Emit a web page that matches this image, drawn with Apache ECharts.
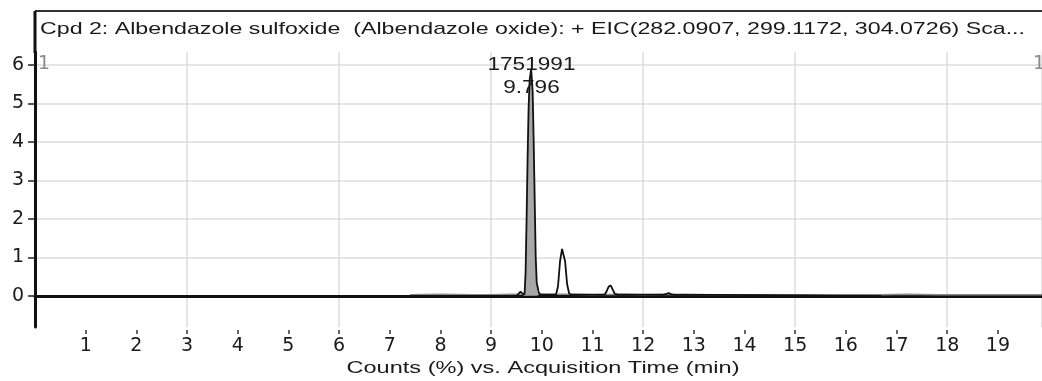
<!DOCTYPE html>
<html>
<head>
<meta charset="utf-8">
<script src="https://cdn.jsdelivr.net/npm/echarts@6/dist/echarts.min.js"></script>
<style>
html,body{margin:0;padding:0;background:#fff;}
#chart{width:1042px;height:381px;}
</style>
</head>
<body>
<div id="chart"></div>
<script>
// ---- data ----
const titleText = 'Cpd 2: Albendazole sulfoxide  (Albendazole oxide): + EIC(282.0907, 299.1172, 304.0726) Sca...';
const xAxisTitle = 'Counts (%) vs. Acquisition Time (min)';
const xTickValues = [1,2,3,4,5,6,7,8,9,10,11,12,13,14,15,16,17,18,19];
const yTickValues = [0,1,2,3,4,5,6];

// black EIC trace (time in min, counts in %)
const signalTime = [0, 9.50, 9.54, 9.58, 9.62, 9.66, 9.68, 9.70, 9.72, 9.74, 9.76, 9.79, 9.82, 9.84, 9.86, 9.88, 9.90, 9.94, 9.98,
  10.28, 10.32, 10.36, 10.40, 10.43, 10.46, 10.50, 10.54, 10.58,
  11.24, 11.28, 11.32, 11.36, 11.40, 11.44, 11.50,
  12.40, 12.46, 12.50, 12.56, 12.62, 16.7];
const signalCounts = [0, 0, 0.05, 0.11, 0.06, 0.04, 0.6, 2.0, 3.6, 4.9, 5.6, 5.9, 5.3, 4.0, 2.5, 1.0, 0.35, 0.08, 0.03,
  0.03, 0.25, 0.9, 1.22, 1.25, 0.9, 0.3, 0.06, 0.03,
  0.03, 0.12, 0.24, 0.27, 0.16, 0.05, 0.03,
  0.03, 0.05, 0.07, 0.04, 0.03, 0];

// grey raw trace slightly above the baseline
const traceTime = [7.40, 8.00, 8.60, 9.00, 9.40, 10.60, 11.00, 11.60, 12.00, 12.80, 13.40, 14.00, 14.60, 15.20, 15.80, 16.40, 16.70, 17.20, 17.80, 18.40, 19.00, 19.87];
const traceCounts = [0.03, 0.04, 0.03, 0.03, 0.04, 0.04, 0.03, 0.04, 0.03, 0.04, 0.03, 0.03, 0.03, 0.03, 0.02, 0.03, 0.03, 0.04, 0.03, 0.03, 0.03, 0.03];

// integrated peak
const peakStart = 9.64, peakEnd = 9.92;
const peakApexTime = 9.796, peakApexCounts = 5.9, peakArea = '1751991';
const cursorLabel = '1';

// ---- chart ----
const signal = signalTime.map((t, i) => [t, signalCounts[i]]);
const trace = traceTime.map((t, i) => [t, traceCounts[i]]);
const fill = signal.filter(p => p[0] >= peakStart && p[0] <= peakEnd);
fill.unshift([peakStart, 0]); fill.push([peakEnd, 0]);

const X0 = 35, XR = 1042, YT = 52, YB = 327, FRAME_TOP = 11;
const FONT = '"Liberation Sans", Arial, sans-serif';
const TICKFONT = '"DejaVu Sans", sans-serif';

function measure(text, size) {
  const c = document.createElement('canvas').getContext('2d');
  c.font = size + 'px ' + FONT;
  return c.measureText(text).width;
}
const titleSize = 17, nameSize = 17, peakSize = 18;
const titleScale = 985 / measure(titleText, titleSize);
const nameScale = 393 / measure(xAxisTitle, nameSize);
const peakScale = 88 / measure(peakArea, peakSize);

const chart = echarts.init(document.getElementById('chart'), null, {renderer: 'canvas'});
chart.setOption({
  animation: false,
  backgroundColor: '#fff',
  textStyle: {fontFamily: FONT},
  grid: {left: X0, right: 0, top: YT, bottom: 381 - YB, containLabel: false},
  xAxis: [{
    type: 'value', min: 0, max: 19.87,
    axisLine: {show: true, lineStyle: {color: '#111', width: 3}},
    axisTick: {show: false},
    axisLabel: {show: false},
    splitLine: {show: true, lineStyle: {color: '#dcdcdc', width: 1.5}},
    splitArea: {show: false}
  }, {
    type: 'value', min: 0, max: 19.87, position: 'bottom', offset: 3,
    axisLine: {show: false},
    axisTick: {show: true, length: 4, customValues: xTickValues, lineStyle: {color: '#333', width: 1.5}},
    axisLabel: {show: true, customValues: xTickValues, color: '#1a1a1a', fontSize: 19, margin: 7, fontFamily: TICKFONT},
    splitLine: {show: false}
  }],
  yAxis: {
    type: 'value', min: -0.81, max: 6.34,
    axisLine: {show: true, lineStyle: {color: '#111', width: 3}},
    axisTick: {show: true, length: 7, customValues: yTickValues, lineStyle: {color: '#222', width: 1.5}},
    axisLabel: {show: true, customValues: yTickValues, color: '#1a1a1a', fontSize: 19, margin: 11, fontFamily: TICKFONT},
    splitLine: {show: true, customValues: yTickValues, lineStyle: {color: '#dcdcdc', width: 1.5}}
  },
  series: [
    {
      type: 'line', name: 'trace', xAxisIndex: 0, data: trace, showSymbol: false, silent: true,
      lineStyle: {color: '#8a8a8a', width: 1.5}, z: 3,
      markPoint: {
        symbol: 'circle', symbolSize: 0, silent: true,
        label: {show: true, color: '#8a8a8a', fontSize: 19, fontFamily: TICKFONT},
        data: [
          {coord: [0, 6], value: cursorLabel, label: {offset: [9, -1], formatter: cursorLabel}},
          {coord: [19.87, 6], value: cursorLabel, label: {offset: [-3, -1], formatter: cursorLabel}}
        ]
      }
    },
    {
      type: 'line', name: 'fill', xAxisIndex: 0, data: fill, showSymbol: false, silent: true,
      lineStyle: {width: 0}, areaStyle: {color: '#a8a8a8', opacity: 1}, z: 4
    },
    {
      type: 'line', name: 'EIC', xAxisIndex: 0, data: signal, showSymbol: false, silent: true,
      lineStyle: {color: '#111', width: 1.8}, z: 5
    }
  ]
});

// frame, title, axis name and peak annotation (positioned via the chart's own scales)
const apex = chart.convertToPixel({xAxisIndex: 0, yAxisIndex: 0}, [peakApexTime, peakApexCounts]);
chart.setOption({
  graphic: [
    {type: 'line', shape: {x1: X0, y1: FRAME_TOP, x2: XR, y2: FRAME_TOP}, style: {stroke: '#333', lineWidth: 2}, z: 100},
    {type: 'line', shape: {x1: X0, y1: FRAME_TOP, x2: X0, y2: YT + 1}, style: {stroke: '#111', lineWidth: 3}, z: 100},
    {type: 'text', x: 40, y: 29, scaleX: titleScale, originX: 0,
      style: {text: titleText, font: titleSize + 'px ' + FONT, fill: '#1a1a1a', verticalAlign: 'middle', align: 'left'}, z: 100},
    {type: 'text', x: 543, y: 368, scaleX: nameScale, originX: 0,
      style: {text: xAxisTitle, font: nameSize + 'px ' + FONT, fill: '#1a1a1a', verticalAlign: 'middle', align: 'center'}, z: 100},
    {type: 'text', x: apex[0], y: apex[1] - 4, scaleX: peakScale, originX: 0,
      style: {text: peakArea, font: peakSize + 'px ' + FONT, fill: '#1a1a1a', verticalAlign: 'middle', align: 'center'}, z: 100},
    {type: 'text', x: apex[0], y: apex[1] + 19, scaleX: peakScale, originX: 0,
      style: {text: peakApexTime.toFixed(3), font: peakSize + 'px ' + FONT, fill: '#1a1a1a', verticalAlign: 'middle', align: 'center'}, z: 100}
  ]
});
</script>
</body>
</html>
